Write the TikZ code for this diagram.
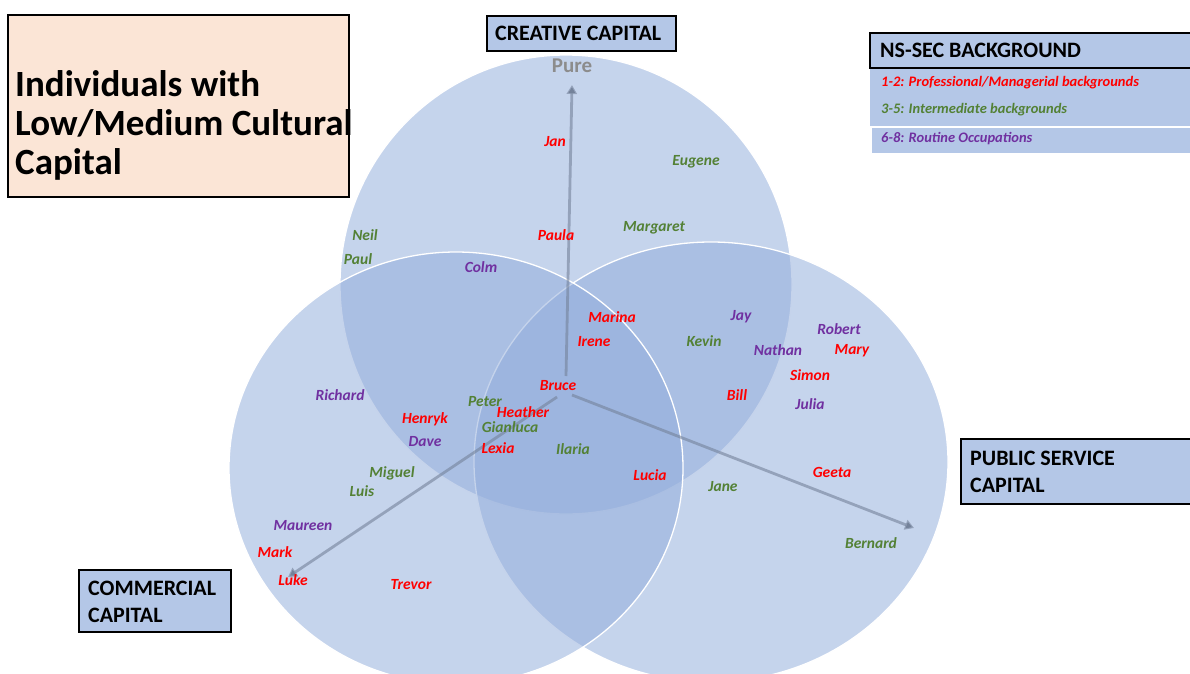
\documentclass[tikz,border=0pt]{standalone}
\usepackage{fontspec}
\setmainfont{Carlito}
\usetikzlibrary{arrows.meta}

\definecolor{venn}{HTML}{92ADDB}
\definecolor{boxblue}{HTML}{B4C7E7}
\definecolor{peach}{HTML}{FBE5D6}
\definecolor{nsred}{HTML}{FF0000}
\definecolor{nsgreen}{HTML}{538135}
\definecolor{nspurple}{HTML}{7030A0}
\definecolor{axisgray}{HTML}{74829A}
\definecolor{puregray}{HTML}{8C8C8C}

\tikzset{
  vennset/.style={fill=venn, fill opacity=0.53, draw=white, line width=1.3pt},
  capbox/.style={draw=black, line width=1.2pt, fill=boxblue, rectangle, inner sep=0pt},
  captext/.style={font=\fontsize{22}{27}\selectfont\bfseries, align=left, anchor=west, inner sep=0pt},
  nm/.style={font=\fontsize{15.5}{15.5}\selectfont\bfseries\itshape, text=#1, inner sep=0pt},
  key/.style={font=\fontsize{14.5}{14.5}\selectfont\bfseries\itshape, text=#1, anchor=west, inner sep=0pt},
  axis/.style={draw=axisgray, draw opacity=0.6, line width=2.8pt,
    -{Triangle[length=9pt,width=10pt]}},
}

\begin{document}
\begin{tikzpicture}[x=1pt, y=-1pt]
\useasboundingbox (0,0) rectangle (1190,673);

% the three capital sets
\path[vennset] (566,284.5) ellipse [x radius=226pt, y radius=229.5pt];
\path[vennset] (711,462) ellipse [x radius=237pt, y radius=220pt];
\path[vennset] (456,468) ellipse [x radius=227pt, y radius=216pt];

% axes out from the centre
\node[font=\fontsize{21}{21}\selectfont\bfseries, text=puregray, inner sep=0pt] (pure) at (572,66) {Pure};
\coordinate (upstart) at (566,376);
\coordinate (upend) at (572,85);
\coordinate (lstart) at (557,397);
\coordinate (lend) at (288,577);
\coordinate (rstart) at (572,395);
\coordinate (rend) at (914,528);
\draw[axis] (upstart) -- (upend);
\draw[axis] (lstart) -- (lend);
\draw[axis] (rstart) -- (rend);

% title box
\node[draw=black, line width=1.2pt, fill=peach, minimum width=341pt, minimum height=182pt, inner sep=0pt] (titlebox) at (178.5,106) {};
\node[font=\fontsize{37}{39}\selectfont\bfseries, align=left, anchor=west, inner sep=0pt] (title) at (15,125)
  {Individuals with\\Low/Medium Cultural\\Capital};

% capital boxes
\node[capbox, minimum width=189pt, minimum height=35pt] (creative) at (581.5,33.5) {};
\node[captext] (creativetxt) at (495,33.5) {CREATIVE CAPITAL};

\node[capbox, minimum width=231pt, minimum height=65pt] (public) at (1076.5,471.5) {};
\node[captext] (publictxt) at (970,471.5) {PUBLIC SERVICE\\CAPITAL};

\node[capbox, minimum width=152pt, minimum height=62pt] (commercial) at (155,601) {};
\node[captext] (commercialtxt) at (88,602) {COMMERCIAL\\CAPITAL};

% NS-SEC key
\fill[boxblue] (870,68) rectangle (1192,126);
\fill[boxblue] (872,127.5) rectangle (1192,153);
\node[capbox, minimum width=324pt, minimum height=35pt] (nsbox) at (1032,50.5) {};
\node[captext] (nstxt) at (880,50.5) {NS-SEC BACKGROUND};
\node[key=nsred] (k1) at (881,83) {1-2: Professional/Managerial backgrounds};
\node[key=nsgreen] (k2) at (881,110) {3-5: Intermediate backgrounds};
\node[key=nspurple] (k3) at (881,139) {6-8: Routine Occupations};

% individuals
\node[nm=nsred] (jan) at (555,142) {Jan};
\node[nm=nsgreen] (eugene) at (696,162) {Eugene};
\node[nm=nsred] (paula) at (556,235) {Paula};
\node[nm=nsgreen] (margaret) at (654,228) {Margaret};
\node[nm=nsgreen] (neil) at (365,235) {Neil};
\node[nm=nsgreen] (paul) at (358,259) {Paul};
\node[nm=nspurple] (colm) at (481,267) {Colm};
\node[nm=nsred] (marina) at (612,317) {Marina};
\node[nm=nsred] (irene) at (594,342) {Irene};
\node[nm=nspurple] (jay) at (741,317) {Jay};
\node[nm=nsgreen] (kevin) at (704,341) {Kevin};
\node[nm=nspurple] (robert) at (839,329) {Robert};
\node[nm=nspurple] (nathan) at (778,350) {Nathan};
\node[nm=nsred] (mary) at (852,351) {Mary};
\node[nm=nsred] (simon) at (810,375) {Simon};
\node[nm=nsred] (bruce) at (558,386) {Bruce};
\node[nm=nsred] (bill) at (737,395) {Bill};
\node[nm=nspurple] (julia) at (810,404) {Julia};
\node[nm=nspurple] (richard) at (340,395) {Richard};
\node[nm=nsred] (henryk) at (425,419) {Henryk};
\node[nm=nsgreen] (peter) at (485,402) {Peter};
\node[nm=nsred] (heather) at (523,412) {Heather};
\node[nm=nsgreen] (gianluca) at (510,427) {Gianluca};
\node[nm=nspurple] (dave) at (425,442) {Dave};
\node[nm=nsred] (lexia) at (498,448) {Lexia};
\node[nm=nsgreen] (ilaria) at (573,449) {Ilaria};
\node[nm=nsred] (lucia) at (650,475) {Lucia};
\node[nm=nsred] (geeta) at (832,472) {Geeta};
\node[nm=nsgreen] (jane) at (723,487) {Jane};
\node[nm=nsgreen] (miguel) at (392,473) {Miguel};
\node[nm=nsgreen] (luis) at (362,491) {Luis};
\node[nm=nspurple] (maureen) at (303,526) {Maureen};
\node[nm=nsred] (mark) at (275,552) {Mark};
\node[nm=nsred] (luke) at (293,580) {Luke};
\node[nm=nsred] (trevor) at (411,585) {Trevor};
\node[nm=nsgreen] (bernard) at (871,543) {Bernard};
\end{tikzpicture}
\end{document}
